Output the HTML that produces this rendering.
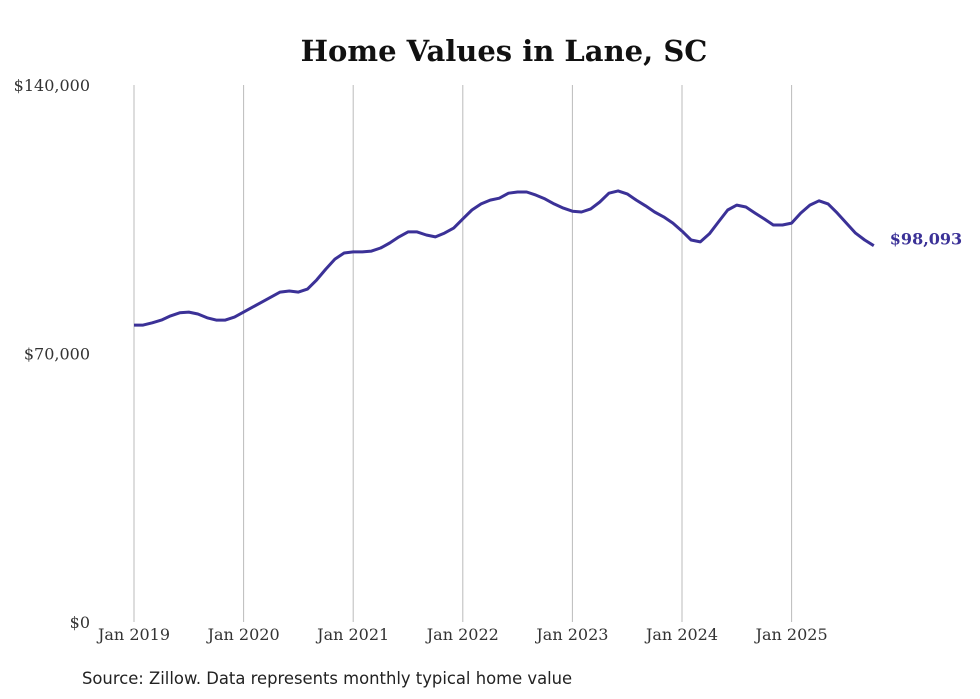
<!DOCTYPE html>
<html><head><meta charset="utf-8"><style>
html,body{margin:0;padding:0;background:#fff;}
svg{display:block;}
</style></head><body>
<svg id="chart" width="980" height="699" xmlns="http://www.w3.org/2000/svg">
<text x="504" y="61" text-anchor="middle" font-family="'DejaVu Serif',serif" font-weight="bold" font-size="29" fill="#111">Home Values in Lane, SC</text>
<g id="grid"></g><g id="yticks"></g><g id="xticks"></g>
<path id="line" fill="none" stroke="#3b3197" stroke-width="3" stroke-linejoin="round"/>
<text id="endlabel" font-family="'DejaVu Serif',serif" font-weight="bold" font-size="16" fill="#3b3197"></text>
<text x="82" y="684" font-family="'DejaVu Sans',sans-serif" font-size="16.4" fill="#222">Source: Zillow. Data represents monthly typical home value</text>
</svg>
<script>
const yearLabels=["Jan 2019","Jan 2020","Jan 2021","Jan 2022","Jan 2023","Jan 2024","Jan 2025"];
const yTickValues=[0,70000,140000];
const yTickLabels=["$0","$70,000","$140,000"];
const values=[77.4,77.4,78.0,78.7,79.8,80.6,80.8,80.3,79.3,78.7,78.7,79.5,
80.8,82.1,83.4,84.7,86.0,86.3,86.0,86.8,89.2,92.0,94.6,96.2,
96.5,96.5,96.7,97.5,98.8,100.4,101.7,101.7,100.9,100.4,101.4,102.7,
105.1,107.4,109.0,110.0,110.5,111.8,112.1,112.1,111.3,110.3,109.0,107.9,
107.1,106.9,107.7,109.5,111.8,112.4,111.6,110.0,108.5,106.9,105.6,104.0,
101.9,99.6,99.1,101.2,104.3,107.4,108.7,108.2,106.6,105.1,103.5,103.5,
104.0,106.6,108.7,109.8,109.0,106.6,104.0,101.4,99.6,98.093];
const lastLabel="$98,093";
const NS="http://www.w3.org/2000/svg";
const x0=134,yearW=109.6,yBase=622,yTop=85;
const xScale=m=>x0+m*yearW/12;
const yScale=v=>yBase-(v/140000)*(yBase-yTop);
const grid=document.getElementById('grid'),xt=document.getElementById('xticks'),yt=document.getElementById('yticks');
yearLabels.forEach((l,i)=>{
 const x=xScale(i*12);
 const ln=document.createElementNS(NS,'line');
 ln.setAttribute('x1',x);ln.setAttribute('x2',x);ln.setAttribute('y1',yTop);ln.setAttribute('y2',yBase);
 ln.setAttribute('stroke','#bbb');ln.setAttribute('stroke-width','1');
 
 
 grid.appendChild(ln);
 const t=document.createElementNS(NS,'text');
 t.setAttribute('x',x);t.setAttribute('y',640);t.setAttribute('text-anchor','middle');
 t.setAttribute('font-family',"'DejaVu Serif',serif");t.setAttribute('font-size','16');t.setAttribute('fill','#333');
 t.textContent=l;
 
 
 xt.appendChild(t);
});
yTickValues.forEach((v,i)=>{
 const t=document.createElementNS(NS,'text');
 t.setAttribute('x',90);t.setAttribute('y',yScale(v)+6);t.setAttribute('text-anchor','end');
 t.setAttribute('font-family',"'DejaVu Serif',serif");t.setAttribute('font-size','16');t.setAttribute('fill','#333');
 t.textContent=yTickLabels[i];
 
 
 yt.appendChild(t);
});
const d=values.map((v,i)=>(i?'L':'M')+xScale(i).toFixed(1)+','+yScale(v*1000).toFixed(1)).join(' ');
document.getElementById('line').setAttribute('d',d);
const n=values.length-1,el=document.getElementById('endlabel');
el.setAttribute('x',xScale(n)+16);el.setAttribute('y',yScale(values[n]*1000)-1);el.textContent=lastLabel;
</script>
</body></html>
